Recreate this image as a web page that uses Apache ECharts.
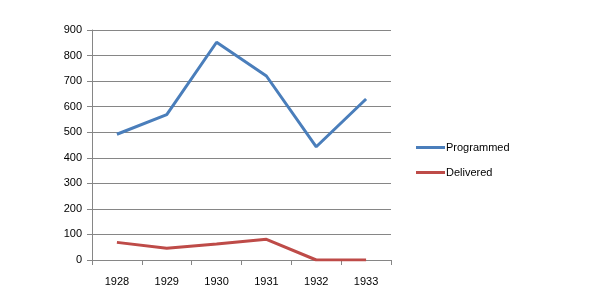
<!DOCTYPE html>
<html>
<head>
<meta charset="utf-8">
<script src="https://cdn.jsdelivr.net/npm/echarts@6/dist/echarts.min.js"></script>
<style>
  html, body { margin: 0; padding: 0; background: #fff; }
  #chart { width: 602px; height: 304px; }
</style>
</head>
<body>
<div id="chart"></div>
<script>
const years = ['1928', '1929', '1930', '1931', '1932', '1933'];
const programmed = [492, 569, 852, 720, 443, 630];
const delivered = [69, 46, 63, 81, 0, 0];

const chart = echarts.init(document.getElementById('chart'));
const font = 'Liberation Sans';
chart.setOption({
  animation: false,
  legend: {
    orient: 'vertical',
    left: 411,
    top: 137,
    itemWidth: 29,
    itemHeight: 3,
    itemGap: 14,
    icon: 'rect',
    textStyle: { fontFamily: font, fontSize: 11, color: '#000', padding: [0, 0, 0, -4] },
    data: ['Programmed', 'Delivered']
  },
  grid: { left: 92, right: 211, top: 30, bottom: 44 },
  xAxis: {
    type: 'category',
    boundaryGap: true,
    data: years,
    axisLine: { lineStyle: { color: '#868686', width: 1 } },
    axisTick: { show: true, length: 5, inside: false, lineStyle: { color: '#868686' } },
    axisLabel: { fontFamily: font, fontSize: 11, color: '#000', margin: 16 }
  },
  yAxis: {
    type: 'value',
    min: 0,
    max: 900,
    interval: 100,
    axisLine: { show: true, lineStyle: { color: '#868686' } },
    axisTick: { show: true, length: 5, lineStyle: { color: '#868686' } },
    axisLabel: { fontFamily: font, fontSize: 11, color: '#000', margin: 10 },
    splitLine: { lineStyle: { color: '#868686', width: 1 } }
  },
  series: [
    {
      name: 'Programmed',
      type: 'line',
      data: programmed,
      symbol: 'none',
      lineStyle: { color: '#4a7ebb', width: 3 },
      itemStyle: { color: '#4a7ebb' }
    },
    {
      name: 'Delivered',
      type: 'line',
      data: delivered,
      symbol: 'none',
      lineStyle: { color: '#be4b48', width: 3 },
      itemStyle: { color: '#be4b48' }
    }
  ]
});
</script>
</body>
</html>
